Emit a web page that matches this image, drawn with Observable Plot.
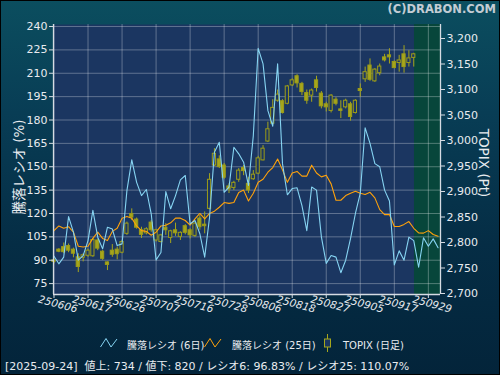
<!DOCTYPE html>
<html><head><meta charset="utf-8">
<script src="https://cdn.jsdelivr.net/npm/d3@7"></script>
<script src="https://cdn.jsdelivr.net/npm/@observablehq/plot@0.6"></script>
<style>
body{margin:0;background:#04263d;}
#wrap{position:relative;width:500px;height:375px;overflow:hidden;
  background:linear-gradient(180deg,#0b4e5f 0%,#083d55 30%,#052d45 65%,#03243a 100%);
  font-family:"DejaVu Sans","Noto Sans CJK JP",sans-serif;color:#e6e9ee;}
#wrap svg{position:absolute;left:0;top:0;}
.abs{position:absolute;white-space:nowrap;}
#border{position:absolute;left:0;top:0;width:498px;height:373px;border:1px solid #000;pointer-events:none;}
</style></head>
<body><div id="wrap"></div>
<script>
// ---- data ----
const xLabels = ["250606","250617","250626","250707","250716","250728","250806","250818","250827","250905","250917","250929"];
const xTickIdx = [0,7,14,21,28,35,42,49,56,63,70,77];
const leftTicks = [75,90,105,120,135,150,165,180,195,210,225,240];
const rightTicks = [2700,2750,2800,2850,2900,2950,3000,3050,3100,3150,3200];

const topixOpen  = [2765,2786,2791,2793,2786,2771,2770,2774,2773,2804,2782,2761,2784,2786,2780,2817,2856,2845,2824,2818,
 2839,2804,2801,2829,2809,2824,2811,2832,2824,2813,2847,2835,2866,2951,2963,2951,2910,2907,2923,2946,
 2915,2924,2935,2961,2998,3033,3078,3077,3072,3108,3126,3111,3093,3088,3118,3092,3071,3058,3080,3061,
 3065,3071,3054,3101,3120,3147,3116,3132,3163,3167,3154,3152,3169,3152,3162];
const topixClose = [2762,2782,2781,2784,2778,2752,2775,2784,2805,2788,2768,2756,2776,2777,2801,2837,2849,2829,2815,2826,
 2824,2824,2814,2824,2822,2818,2819,2819,2814,2837,2830,2832,2923,2974,2948,2927,2904,2917,2941,2940,
 2902,2933,2965,2984,3022,3064,3090,3054,3106,3118,3112,3095,3078,3098,3103,3067,3065,3088,3072,3058,
 3078,3046,3078,3097,3134,3119,3139,3145,3157,3163,3142,3157,3144,3161,3169];
const topixHigh  = [2768,2788,2799,2797,2789,2778,2778,2787,2808,2807,2784,2762,2796,2791,2804,2840,2866,2848,2830,2829,
 2843,2826,2816,2837,2824,2838,2821,2835,2827,2840,2853,2860,2935,2984,2970,2955,2915,2920,2945,2951,
 2928,2941,2969,2990,3036,3080,3099,3080,3108,3121,3129,3114,3099,3101,3126,3096,3075,3090,3084,3078,
 3081,3075,3080,3111,3144,3160,3141,3150,3169,3180,3156,3167,3186,3176,3171];
const topixLow   = [2758,2780,2778,2780,2770,2741,2762,2771,2771,2784,2765,2745,2771,2766,2778,2814,2843,2826,2808,2815,
 2820,2801,2799,2814,2798,2812,2804,2815,2807,2810,2824,2817,2864,2949,2945,2924,2896,2902,2918,2931,
 2896,2922,2933,2960,2996,3031,3075,3052,3070,3106,3103,3088,3071,3075,3095,3062,3056,3054,3068,3043,
 3062,3038,3052,3085,3114,3116,3114,3127,3154,3150,3141,3134,3132,3144,3144];

const ratio6 = [92.6,87.7,92,118,108,90,93,102.6,122,104.8,97.3,111.2,110,99.4,100.5,134.7,154.4,140,131.5,135.4,
 119.8,90.2,95,134,123,131.5,141.6,144.4,113.3,115.5,107,92,117.6,159.3,165.7,133.6,136.9,162.5,158.3,152.9,
 138,170,226,216,186,176,216,152,132,136,136.5,125,109,137,135,105,88,93,92,82,
 90,104,120,133,175,165,152,150,135,128,87,96,90,104.8,102.6,85.5,104.4,99,103.7,98];
const ratio25 = [109,112,110.5,111.5,108,99,98.5,99,104,108,104,102.6,108.5,110.5,117,118,117,112,109,108.5,
 106,108,112,112.5,114,117,117,115.5,112.5,116.5,120,116.5,120,121.5,124,127,126.5,127,133.5,135,
 128,133,140,142,146.5,149.5,155,148,140,146,147,144,144,151,146,143.5,144.5,139,128.5,128.5,
 131.5,133,134.3,133,132.2,133.6,130,122.5,119.3,119.3,111.6,111.6,113,114.8,110.5,107.5,107.4,109,106.5,105.4];

const legendNames = ["騰落レシオ (6日)","騰落レシオ (25日)","TOPIX (日足)"];
const statusText = ["[2025-09-24]","値上: 734 / 値下: 820 / レシオ6: 96.83% / レシオ25: 110.07%"];

// ---- styles ----
const plotBg = "#1b3661", zoneBg = "#07463b";
const c6 = "#86d4f2", c25 = "#ffa20a", olive = "#a6a61c", oliveStroke = "#9c9c18";
const axisCol = "#d6dbe3", textCol = "#e8ebef";
const xDom = [-0.1, 79.5], yDom = [68, 241.3];
// TOPIX (right axis) -> left axis units
const t2v = d3.scaleLinear().domain([2700, 3200]).range([68.64, 232.31]);

const candles = topixOpen.map((o, i) => ({i, o, c: topixClose[i], h: topixHigh[i], l: topixLow[i]}));
const s6 = ratio6.map((v, i) => ({i, v}));
const s25 = ratio25.map((v, i) => ({i, v}));
const zoneStart = candles.length - 1 + 0.15;
const font = '"DejaVu Sans","Noto Sans CJK JP",sans-serif';

const chart = Plot.plot({
  width: 500, height: 375,
  marginLeft: 53, marginRight: 60, marginTop: 24, marginBottom: 81,
  style: {background: "transparent", fontFamily: font, fontSize: "11px", color: textCol, overflow: "visible"},
  x: {type: "linear", domain: xDom},
  y: {type: "linear", domain: yDom},
  marks: [
    Plot.frame({fill: plotBg, stroke: "none"}),
    Plot.rect([0], {x1: () => zoneStart, x2: () => xDom[1], fill: zoneBg}),
    Plot.gridY(leftTicks, {stroke: "#ffffff", strokeOpacity: 0.3}),
    Plot.gridX(xTickIdx, {stroke: "#ffffff", strokeOpacity: 0.3}),
    Plot.ruleX(candles, {x: "i", y1: d => t2v(d.l), y2: d => t2v(d.h), stroke: olive, strokeWidth: 1}),
    Plot.rect(candles, {x1: d => d.i - 0.33, x2: d => d.i + 0.33,
      y1: d => t2v(Math.min(d.o, d.c)), y2: d => t2v(Math.max(d.o, d.c)),
      fill: d => d.c < d.o ? olive : plotBg, stroke: oliveStroke, strokeWidth: 1}),
    Plot.line(s25, {x: "i", y: "v", stroke: c25, strokeWidth: 1.1}),
    Plot.line(s6, {x: "i", y: "v", stroke: c6, strokeWidth: 1.1}),
    Plot.ruleX([xDom[0], xDom[1]], {stroke: axisCol, strokeWidth: 1.3}),
    Plot.ruleY([yDom[0]], {stroke: axisCol, strokeWidth: 1.3}),
    Plot.axisY(leftTicks, {anchor: "left", tickSize: 4, tickPadding: 2, stroke: axisCol, fill: textCol, fontSize: 11, label: null}),
    Plot.axisY(rightTicks.map(t2v), {anchor: "right", tickSize: 4, tickPadding: 2, stroke: axisCol, fill: textCol, fontSize: 11, label: null,
      tickFormat: v => d3.format(",")(Math.round(t2v.invert(v)))}),
    Plot.axisX(xTickIdx, {anchor: "bottom", tickSize: 4, stroke: axisCol, tickFormat: () => "", label: null}),
    Plot.text(xTickIdx, {x: d => d, text: (d, k) => xLabels[k], frameAnchor: "bottom", dy: 13, dx: 3,
      rotate: 15, textAnchor: "middle", fontSize: 10.5, fontStyle: "italic", fill: textCol})
  ]
});

const wrap = document.getElementById("wrap");
wrap.appendChild(chart);

function addDiv(html, css) {
  const d = document.createElement("div");
  d.className = "abs";
  d.innerHTML = html;
  Object.assign(d.style, css);
  wrap.appendChild(d);
  return d;
}
// title
addDiv("(C)DRABON.COM", {right: "4px", top: "2px", fontWeight: "bold", fontSize: "11.5px", color: "#c3ccd4"});
// axis titles
addDiv("騰落レシオ (%)", {left: "18px", top: "167px", transform: "translate(-50%,-50%) rotate(-90deg)", fontSize: "13.5px", color: textCol});
addDiv("TOPIX (Pt)", {left: "484px", top: "163px", transform: "translate(-50%,-50%) rotate(90deg)", fontSize: "13.5px", color: textCol});
// legend
const icon6 = `<svg width="18" height="11" style="vertical-align:middle"><polyline points="0.5,10 6,1.5 11,10 17,2" fill="none" stroke="${c6}" stroke-width="1"/></svg>`;
const icon25 = `<svg width="18" height="11" style="vertical-align:middle"><polyline points="0.5,10 6,1.5 11,10 17,2" fill="none" stroke="${c25}" stroke-width="1"/></svg>`;
const iconC = `<svg width="9" height="18" style="vertical-align:middle"><line x1="4.5" y1="0" x2="4.5" y2="18" stroke="${olive}"/><rect x="1.5" y="5" width="6" height="8" fill="${plotBg}" stroke="${olive}"/></svg>`;
addDiv(icon6, {left: "100px", top: "337px"});
addDiv(legendNames[0], {left: "127px", top: "337px", fontSize: "10px", color: textCol});
addDiv(icon25, {left: "204px", top: "337px"});
addDiv(legendNames[1], {left: "232px", top: "337px", fontSize: "10px", color: textCol});
addDiv(iconC, {left: "323px", top: "334px"});
addDiv(legendNames[2], {left: "343px", top: "337px", fontSize: "10px", color: textCol});
// status line
addDiv(`${statusText[0]}&nbsp;&nbsp;${statusText[1]}`, {left: "5px", top: "357px", fontSize: "11px", color: textCol});
const b = document.createElement("div"); b.id = "border"; wrap.appendChild(b);
</script>
</body></html>
